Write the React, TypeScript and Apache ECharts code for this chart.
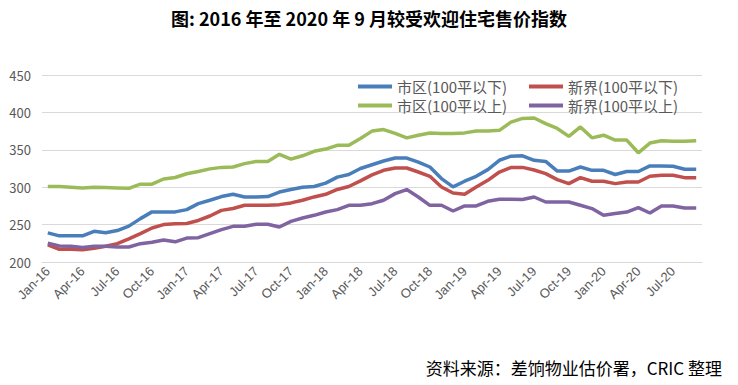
import React, { useEffect, useRef } from "react";
import * as echarts from "echarts";

const months = [
  "Jan-16","Feb-16","Mar-16","Apr-16","May-16","Jun-16","Jul-16","Aug-16","Sep-16","Oct-16","Nov-16","Dec-16",
  "Jan-17","Feb-17","Mar-17","Apr-17","May-17","Jun-17","Jul-17","Aug-17","Sep-17","Oct-17","Nov-17","Dec-17",
  "Jan-18","Feb-18","Mar-18","Apr-18","May-18","Jun-18","Jul-18","Aug-18","Sep-18","Oct-18","Nov-18","Dec-18",
  "Jan-19","Feb-19","Mar-19","Apr-19","May-19","Jun-19","Jul-19","Aug-19","Sep-19","Oct-19","Nov-19","Dec-19",
  "Jan-20","Feb-20","Mar-20","Apr-20","May-20","Jun-20","Jul-20","Aug-20","Sep-20",
];

const urbanSmall = [
  239, 235, 235, 235, 241, 239, 242, 248, 258, 267, 267, 267,
  270, 278, 282.5, 287.5, 290.5, 287, 287, 287.5, 293.5, 297, 300, 301,
  305.5, 313.5, 317, 325, 330, 335, 339, 339, 333.5, 327, 311.5, 300.5,
  308, 314.5, 323.5, 336, 341.5, 342, 336, 334.5, 321.5, 321.5, 327, 322.5,
  322.5, 317, 321, 321, 328.5, 328.5, 328, 324, 324,
];

const ntSmall = [
  223, 217, 217, 216.5, 218.5, 221, 224.5, 231, 238, 245.5, 250, 251,
  251.5, 255.5, 261.5, 269, 271.5, 275.8, 275.8, 275.8, 276.7, 279, 282.5, 287,
  290.5, 297, 301, 308.5, 316.5, 322.6, 325.7, 325.7, 320.3, 314.6, 300.3, 292.2,
  290.5, 300.3, 309.2, 320.3, 326.2, 326.5, 323, 318.2, 310.2, 304.8, 312.8, 307.9,
  307.9, 304.8, 307, 307, 314.6, 315.9, 315.9, 312.8, 312.8,
];

const urbanLarge = [
  301, 301, 300, 299, 300, 299.5, 299, 298.5, 304, 304, 311, 313,
  318, 321, 324.5, 326.5, 327, 331.5, 334.5, 334.5, 344, 337.5, 342, 348,
  351, 356, 356, 365, 375, 377, 372, 366, 369.5, 372.5, 371.8, 371.8,
  372.6, 375, 375, 376, 387, 392, 392.5, 385, 378.5, 368, 380.5, 366,
  369.5, 363, 363, 346, 359, 362, 361.5, 361.5, 362,
];

const ntLarge = [
  225, 221.5, 221, 219.5, 221, 221, 220, 220, 224.5, 226.5, 229.5, 227,
  232, 232.5, 238, 243.3, 247.7, 247.7, 250.4, 250.4, 246.8, 254.4, 258.8, 262.4,
  266.8, 270, 275.8, 275.8, 278, 282.5, 291.4, 296.8, 286.9, 275.8, 275.8, 268.2,
  274.9, 274.9, 281.1, 283.8, 283.8, 283.5, 286.9, 280.2, 280.2, 280.2, 275.8, 271.4,
  262.4, 264.7, 266.8, 272.7, 265.5, 274.9, 274.9, 272.2, 272.2,
];

const seriesNames = ["市区(100平以下)", "新界(100平以下)", "市区(100平以上)", "新界(100平以上)"];
const seriesColors = ["#4a7ebb", "#c0504d", "#9bbb59", "#8064a2"];
const seriesData = [urbanSmall, ntSmall, urbanLarge, ntLarge];

const titleText = "图: 2016 年至 2020 年 9 月较受欢迎住宅售价指数";
const sourceText = "资料来源：差饷物业估价署，CRIC 整理";

const CJK = "'Noto Sans CJK SC', 'Noto Sans', sans-serif";

export default function App() {
  const ref = useRef<HTMLDivElement>(null);
  useEffect(() => {
    if (!ref.current) return;
    const chart = echarts.init(ref.current, undefined, { renderer: "svg" });
    const legendPos = [
      { left: 358, top: 79 },
      { left: 529, top: 79 },
      { left: 358, top: 98 },
      { left: 529, top: 98 },
    ];
    chart.setOption({
      animation: false,
      backgroundColor: "#ffffff",
      title: {
        text: titleText,
        left: "center",
        top: 4,
        textStyle: { fontFamily: CJK, fontSize: 18, fontWeight: "bold", color: "#000000" },
      },
      legend: seriesNames.map((n, i) => ({
        data: [n],
        left: legendPos[i].left,
        top: legendPos[i].top,
        icon: "rect",
        itemWidth: 34,
        itemHeight: 4,
        itemGap: 0,
        padding: 0,
        textStyle: { fontFamily: CJK, fontSize: 15, color: "#595959", padding: [0, 0, 0, 0] },
      })),
      grid: { left: 42, right: 36, top: 75, bottom: 123, containLabel: false },
      xAxis: {
        type: "category",
        data: months,
        boundaryGap: true,
        axisLine: { lineStyle: { color: "#d9d9d9" } },
        axisTick: { interval: 2, lineStyle: { color: "#d9d9d9" }, length: 5 },
        axisLabel: {
          interval: 2,
          rotate: 45,
          fontFamily: "'Liberation Sans', sans-serif",
          fontSize: 13,
          color: "#595959",
          margin: 7,
        },
      },
      yAxis: {
        type: "value",
        min: 200,
        max: 450,
        interval: 50,
        axisLine: { show: false },
        axisTick: { show: false },
        splitLine: { lineStyle: { color: "#d9d9d9" } },
        axisLabel: { fontFamily: CJK, fontSize: 13, color: "#595959", margin: 11 },
      },
      series: seriesNames.map((n, i) => ({
        name: n,
        type: "line",
        data: seriesData[i],
        showSymbol: false,
        symbol: "none",
        lineStyle: { color: seriesColors[i], width: 3.5 },
        itemStyle: { color: seriesColors[i] },
      })),
      graphic: [
        {
          type: "text",
          right: 16,
          top: 359,
          style: { text: sourceText, font: `17px ${CJK}`, fill: "#000000" },
        },
      ],
    });
    return () => chart.dispose();
  }, []);
  return (
    <div
      ref={ref}
      style={{ position: "absolute", left: 0, top: 0, width: 738, height: 385 }}
    />
  );
}
